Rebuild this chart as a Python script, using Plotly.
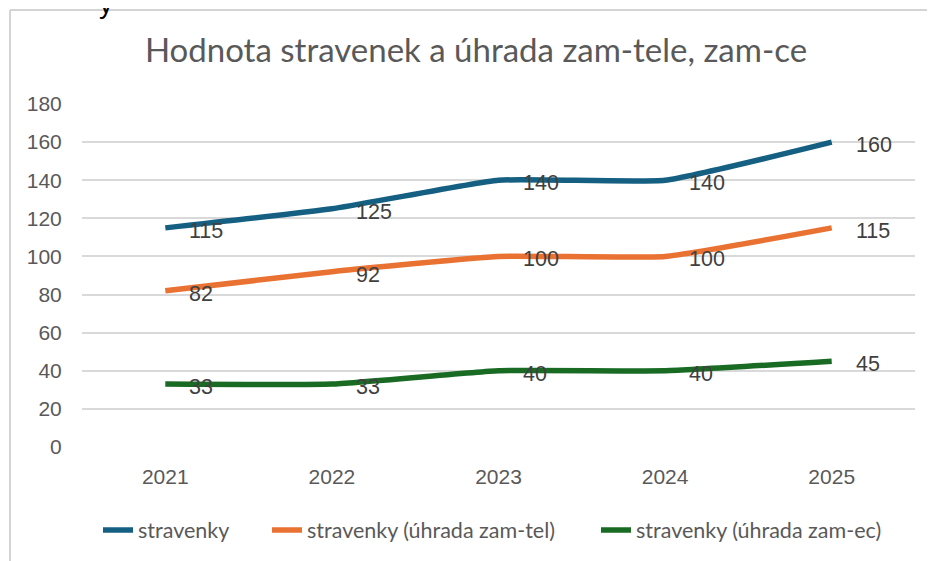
import plotly.graph_objects as go

years = ["2021", "2022", "2023", "2024", "2025"]
stravenky = [115, 125, 140, 140, 160]
uhrada_zamtel = [82, 92, 100, 100, 115]
uhrada_zamec = [33, 33, 40, 40, 45]

series_names = ["stravenky", "stravenky (úhrada zam-tel)", "stravenky (úhrada zam-ec)"]
series_values = [stravenky, uhrada_zamtel, uhrada_zamec]
colors = ["#156082", "#E97132", "#196B24"]

# page has an 8px body margin: figure coords = page coords - 8
W, H = 927, 553
L, R, T, B = 74, 20, 96, 114
ph = H - T - B
pw = W - L - R

legend_ids = ["legend", "legend2", "legend3"]
legend_text_x = [132, 301, 630]  # where each legend text starts (figure px)

fig = go.Figure()
for name, vals, c, lg in zip(series_names, series_values, colors, legend_ids):
    fig.add_trace(go.Scatter(
        x=years, y=vals, name=name, mode="lines",
        line=dict(color=c, width=5.5, shape="spline", smoothing=0.4),
        hoverinfo="x+y", legend=lg,
    ))
    for i, yv in enumerate(vals):
        fig.add_annotation(
            x=i, y=yv, text=str(yv), showarrow=False,
            xanchor="left", yanchor="middle", xshift=22, yshift=-3,
            font=dict(family="Liberation Sans, Arial", size=21.5, color="#404040"),
        )

# outer frame (chart border, partially cut off): top and left edges
frame_top = 1 + (T - 2) / ph
frame_left = (2 - L) / pw
fig.add_shape(type="line", xref="paper", yref="paper",
              x0=frame_left, x1=1 + (R + 10) / pw, y0=frame_top, y1=frame_top,
              line=dict(color="#d4d4d4", width=2), layer="above")
fig.add_shape(type="line", xref="paper", yref="paper",
              x0=frame_left, x1=frame_left, y0=-(B + 10) / ph, y1=frame_top,
              line=dict(color="#d4d4d4", width=2), layer="above")

# cut-off text fragment at top
fig.add_annotation(xref="paper", yref="paper", x=(98 - L) / pw, y=1 + (T + 4) / ph,
                   text="y", showarrow=False, xanchor="center", yanchor="middle",
                   font=dict(family="Liberation Sans, Arial", size=28, color="#000000"))

legend_font = dict(family="Lato, Open Sans, sans-serif", size=21.5, color="#595959")
legend_common = dict(orientation="h", xanchor="left", yanchor="middle",
                     y=-(522 - (H - B)) / ph, font=legend_font, bgcolor="rgba(0,0,0,0)")

fig.update_layout(
    width=W, height=H,
    margin=dict(l=L, r=R, t=T, b=B, autoexpand=False),
    paper_bgcolor="white", plot_bgcolor="white",
    title=dict(text="Hodnota stravenek a úhrada zam-tele, zam-ce",
               x=468 / W, xanchor="center", y=1 - 42 / H, yanchor="middle",
               font=dict(family="Lato, Open Sans, sans-serif", size=33, color="#595959")),
    showlegend=True,
    legend=dict(x=(legend_text_x[0] - 42 - L) / pw, **legend_common),
    legend2=dict(x=(legend_text_x[1] - 42 - L) / pw, **legend_common),
    legend3=dict(x=(legend_text_x[2] - 42 - L) / pw, **legend_common),
    font=dict(family="Liberation Sans, Arial", color="#595959"),
)
fig.update_xaxes(type="category", range=[-0.5, 4.5], showgrid=False, showline=False, zeroline=False,
                 automargin=False,
                 ticks="outside", ticklen=11, tickcolor="rgba(0,0,0,0)",
                 tickfont=dict(family="Liberation Sans, Arial", size=21, color="#595959"))
fig.update_yaxes(range=[0, 180], dtick=20, showgrid=True, gridcolor="#d9d9d9", gridwidth=2,
                 zeroline=False, showline=False, automargin=False,
                 ticks="outside", ticklen=15, tickcolor="rgba(0,0,0,0)",
                 tickfont=dict(family="Liberation Sans, Arial", size=21, color="#595959"))

fig.write_html("out.html")
